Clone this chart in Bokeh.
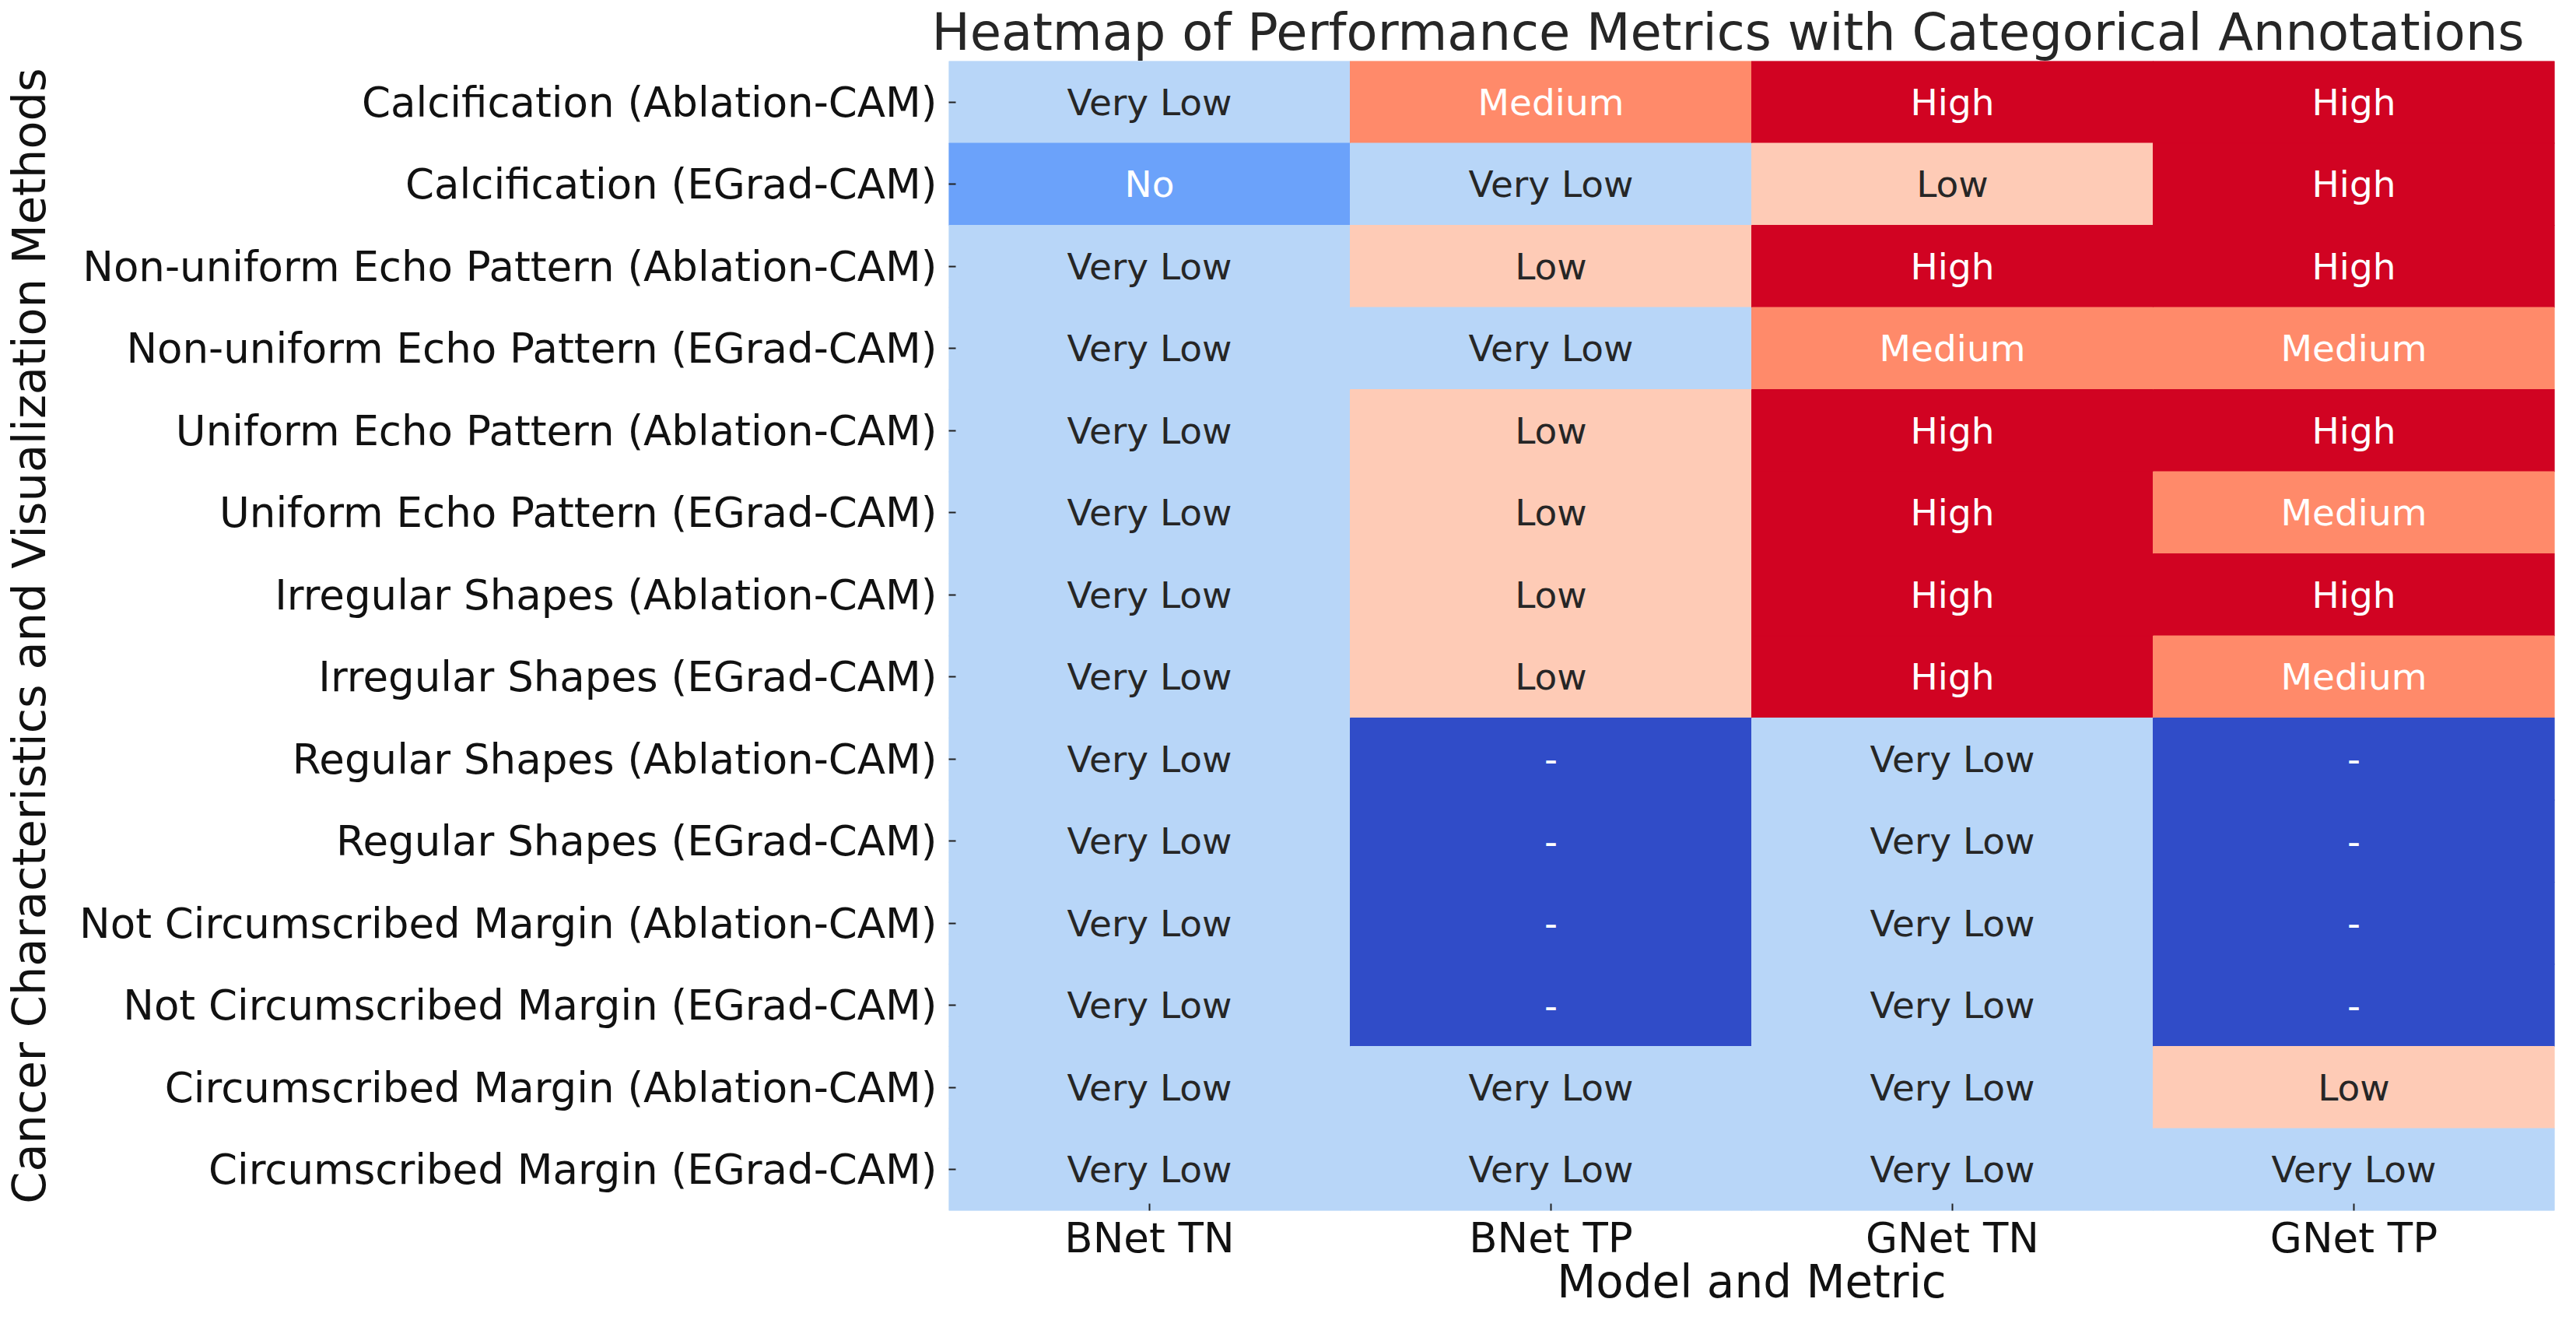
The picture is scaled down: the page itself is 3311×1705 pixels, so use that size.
from bokeh.plotting import figure
from bokeh.models import ColumnDataSource, FactorRange, CategoricalColorMapper
from bokeh.core.properties import value
from bokeh.embed import file_html
from bokeh.resources import INLINE

rows = [
    "Calcification (Ablation-CAM)",
    "Calcification (EGrad-CAM)",
    "Non-uniform Echo Pattern (Ablation-CAM)",
    "Non-uniform Echo Pattern (EGrad-CAM)",
    "Uniform Echo Pattern (Ablation-CAM)",
    "Uniform Echo Pattern (EGrad-CAM)",
    "Irregular Shapes (Ablation-CAM)",
    "Irregular Shapes (EGrad-CAM)",
    "Regular Shapes (Ablation-CAM)",
    "Regular Shapes (EGrad-CAM)",
    "Not Circumscribed Margin (Ablation-CAM)",
    "Not Circumscribed Margin (EGrad-CAM)",
    "Circumscribed Margin (Ablation-CAM)",
    "Circumscribed Margin (EGrad-CAM)",
]
columns = ["BNet TN", "BNet TP", "GNet TN", "GNet TP"]

bnet_tn = ["Very Low", "No", "Very Low", "Very Low", "Very Low", "Very Low", "Very Low",
           "Very Low", "Very Low", "Very Low", "Very Low", "Very Low", "Very Low", "Very Low"]
bnet_tp = ["Medium", "Very Low", "Low", "Very Low", "Low", "Low", "Low",
           "Low", "-", "-", "-", "-", "Very Low", "Very Low"]
gnet_tn = ["High", "Low", "High", "Medium", "High", "High", "High",
           "High", "Very Low", "Very Low", "Very Low", "Very Low", "Very Low", "Very Low"]
gnet_tp = ["High", "High", "High", "Medium", "High", "Medium", "High",
           "Medium", "-", "-", "-", "-", "Low", "Very Low"]

levels = ["-", "No", "Very Low", "Low", "Medium", "High"]
level_colors = ["#304CC8", "#6BA2FA", "#B8D6F8", "#FECBB6", "#FF8A6A", "#D10322"]
level_text = ["#FFFFFF", "#FFFFFF", "#262626", "#262626", "#FFFFFF", "#FFFFFF"]

series = {"BNet TN": bnet_tn, "BNet TP": bnet_tp, "GNet TN": gnet_tn, "GNet TP": gnet_tp}

xs, ys, labels, tcols = [], [], [], []
for c in columns:
    for r, v in zip(rows, series[c]):
        xs.append(c)
        ys.append(r)
        labels.append(v)
        tcols.append(level_text[levels.index(v)])

src = ColumnDataSource(dict(x=xs, y=ys, label=labels, tcol=tcols))

p = figure(
    width=3295, height=1689,
    x_range=FactorRange(*columns), y_range=FactorRange(*list(reversed(rows))),
    output_backend="svg", toolbar_location=None,
    min_border_left=1203, min_border_right=12, min_border_top=73, min_border_bottom=134,
    title="Heatmap of Performance Metrics with Categorical Annotations",
)
p.x_range.range_padding = 0
p.y_range.range_padding = 0

mapper = CategoricalColorMapper(factors=levels, palette=level_colors)
p.rect(x="x", y="y", width=1, height=1, source=src,
       fill_color={"field": "label", "transform": mapper},
       line_color={"field": "label", "transform": mapper}, line_width=1)
p.text(x="x", y="y", text="label", source=src, text_color="tcol",
       text_align="center", text_baseline="middle",
       text_font=value("DejaVu Sans"), text_font_size=value("47px"))

p.title.align = "left"
p.title.text_font = "DejaVu Sans"
p.title.text_font_size = "65.5px"
p.title.text_font_style = "normal"
p.title.text_color = "#262626"
p.title.standoff = 0
p.title.offset = -22

p.xgrid.visible = False
p.ygrid.visible = False
p.outline_line_color = None

for ax in (p.xaxis[0], p.yaxis[0]):
    ax.axis_line_color = None
    ax.major_tick_in = 9
    ax.major_tick_out = 0
    ax.major_tick_line_color = "#222222"
    ax.major_tick_line_width = 2
    ax.minor_tick_line_color = None
    ax.major_label_text_font = "DejaVu Sans"
    ax.major_label_text_font_size = "53px"
    ax.major_label_text_color = "#111111"
    ax.axis_label_text_font = "DejaVu Sans"
    ax.axis_label_text_font_style = "normal"
    ax.axis_label_text_color = "#111111"

p.xaxis.axis_label_text_font_size = "58px"
p.yaxis.axis_label_text_font_size = "59px"
p.xaxis.axis_label = "Model and Metric"
p.yaxis.axis_label = "Cancer Characteristics and Visualization Methods"
p.xaxis.major_label_standoff = 4
p.yaxis.major_label_standoff = 15
p.xaxis.axis_label_standoff = -11
p.yaxis.axis_label_standoff = 27

open("out.html", "w").write(file_html(p, INLINE))
